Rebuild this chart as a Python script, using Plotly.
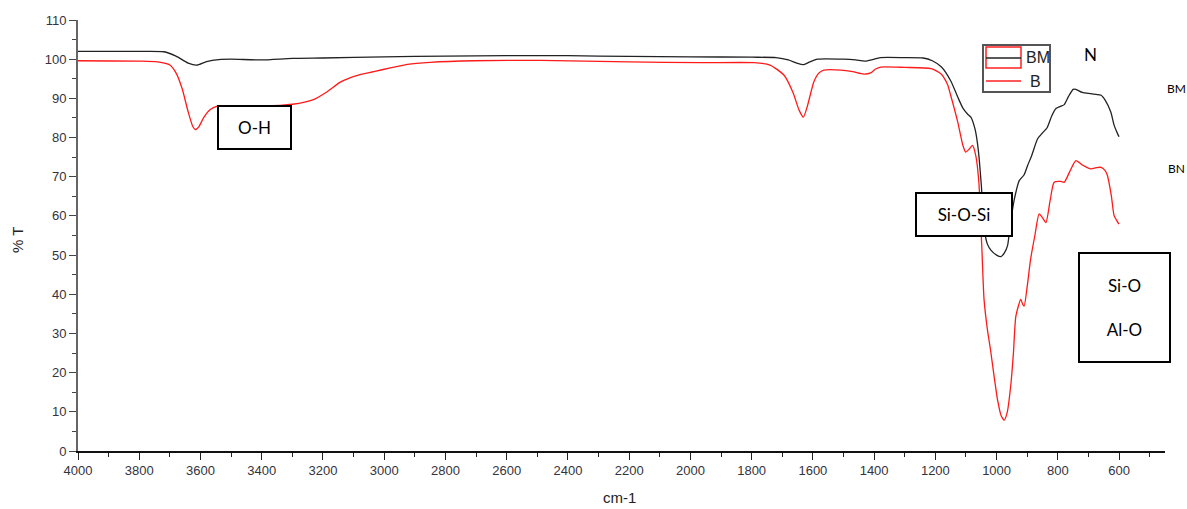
import plotly.graph_objects as go

# ---- data ----
bm_wn = [4000, 3800, 3720, 3680, 3640, 3612, 3580, 3540, 3500, 3400, 3300, 3200, 3000, 2800, 2600,
         2400, 2200, 2000, 1800, 1720, 1680, 1650, 1630, 1610, 1585, 1500, 1460, 1430, 1405, 1380,
         1300, 1240, 1210, 1180, 1150, 1125, 1110, 1095, 1084, 1070, 1060, 1050, 1040, 1030, 1018,
         1000, 986, 975, 964, 955, 942, 926, 910, 899, 885, 866, 850, 835, 820, 806, 790, 779, 765,
         750, 741, 720, 692, 675, 659, 645, 627, 616, 605, 600]
bm_t = [102.0, 102.0, 101.9, 100.8, 99.0, 98.5, 99.4, 99.9, 100.0, 99.8, 100.2, 100.3, 100.6, 100.8, 100.9,
        100.9, 100.7, 100.6, 100.5, 100.4, 99.8, 98.9, 98.6, 99.3, 100.0, 100.0, 99.8, 99.5, 99.9, 100.4,
        100.4, 100.3, 99.6, 98.0, 94.5, 90.0, 87.5, 86.0, 85.2, 82.0, 77.0, 68.0, 56.5, 52.8, 51.2,
        50.0, 49.6, 50.5, 52.5, 58.0, 64.3, 69.0, 70.5, 72.8, 75.5, 79.7, 81.2, 82.5, 85.5, 87.4, 88.0, 88.4, 90.5,
        92.3, 92.3, 91.5, 91.2, 91.0, 90.8, 89.5, 86.5, 83.1, 81.0, 80.2]

b_wn = [4000, 3800, 3740, 3700, 3680, 3660, 3640, 3625, 3617, 3605, 3590, 3570, 3545, 3400, 3300,
        3231, 3190, 3142, 3090, 3034, 2980, 2924, 2850, 2708, 2489, 2200, 1966, 1792, 1740, 1694,
        1665, 1645, 1631, 1618, 1597, 1580, 1564, 1509, 1470, 1434, 1411, 1395, 1378, 1300, 1214,
        1182, 1160, 1150, 1127, 1110, 1101, 1090, 1079, 1068, 1058, 1048, 1041, 1030, 1020, 1008,
        997, 985, 975, 965, 953, 945, 937, 921, 915, 910, 900, 889, 875, 861, 850, 839, 825, 812,
        790, 779, 760, 741, 720, 692, 675, 659, 645, 638, 625, 616, 605, 600]
b_t = [99.6, 99.5, 99.3, 98.5, 96.5, 92.5, 86.5, 82.8, 82.0, 82.8, 85.0, 87.0, 88.0, 88.0, 88.5,
       89.7, 91.5, 94.2, 95.8, 96.8, 97.8, 98.7, 99.2, 99.6, 99.7, 99.3, 99.1, 99.1, 98.5, 95.9,
       91.5, 87.0, 85.2, 88.0, 94.2, 96.5, 97.2, 97.2, 96.8, 96.2, 96.5, 97.5, 98.0, 97.9, 97.6,
       96.3, 93.5, 90.8, 84.0, 78.0, 76.3, 77.0, 78.0, 75.4, 68.7, 51.5, 38.7, 31.0, 25.9, 19.0,
       13.1, 9.0, 7.9, 10.0, 17.3, 25.0, 34.4, 38.7, 37.5, 37.0, 42.0, 48.9, 55.0, 60.5, 59.5, 58.3, 64.0, 68.6,
       68.8, 68.6, 71.5, 74.1, 73.0, 72.0, 72.3, 72.4, 71.5, 70.3, 65.0, 60.0, 58.5, 57.9]

x_ticks = list(range(4000, 599, -200))
y_ticks = list(range(0, 111, 10))

W, H = 1187, 509
L, R, T, B = 78, 22, 20, 58
PW, PH = W - L - R, H - T - B


def px(x):
    return (x - L) / PW


def py(y):
    return (H - B - y) / PH


fig = go.Figure()
fig.add_trace(go.Scatter(x=bm_wn, y=bm_t, mode="lines", name="BM",
                         line=dict(color="#222222", width=1.3, shape="spline", smoothing=0.6)))
fig.add_trace(go.Scatter(x=b_wn, y=b_t, mode="lines", name="B",
                         line=dict(color="#ff1a1a", width=1.3, shape="spline", smoothing=0.6)))

tickfont = dict(family="Liberation Sans, Arial", size=13, color="#333340")
fig.update_xaxes(range=[4000, 450], tickvals=x_ticks, ticktext=[str(v) for v in x_ticks],
                 ticks="outside", ticklen=7, tickwidth=1.3, tickcolor="#222",
                 minor=dict(dtick=100, ticks="outside", ticklen=4, tickcolor="#222", tick0=0),
                 showline=True, linecolor="#111", linewidth=1.5, showgrid=False, zeroline=False,
                 tickfont=tickfont)
fig.update_yaxes(range=[0, 110], tickvals=y_ticks, ticks="outside", ticklen=7, tickwidth=1.3,
                 tickcolor="#444",
                 minor=dict(dtick=5, ticks="outside", ticklen=4, tickcolor="#444"),
                 showline=True, linecolor="#666", linewidth=2, showgrid=False, zeroline=False,
                 tickfont=tickfont)

shapes = []
# legend frame
shapes.append(dict(type="rect", xref="paper", yref="paper", x0=px(983), x1=px(1050), y0=py(92), y1=py(45),
                   line=dict(color="#555", width=2), fillcolor="white", layer="above"))
shapes.append(dict(type="rect", xref="paper", yref="paper", x0=px(986), x1=px(1021), y0=py(68), y1=py(47),
                   line=dict(color="#ff2020", width=1.5), fillcolor="rgba(0,0,0,0)", layer="above"))
shapes.append(dict(type="line", xref="paper", yref="paper", x0=px(986), x1=px(1021), y0=py(58), y1=py(58),
                   line=dict(color="#222", width=1.3), layer="above"))
shapes.append(dict(type="line", xref="paper", yref="paper", x0=px(986), x1=px(1021), y0=py(81), y1=py(81),
                   line=dict(color="#ff2020", width=1.5), layer="above"))
fig.update_layout(shapes=shapes)

labfont = dict(family="Lato, Open Sans", size=17, color="black")
ann = [
    dict(text="BM", x=px(1024), y=py(57), xanchor="left", yanchor="middle",
         font=dict(family="Liberation Sans Narrow, Liberation Sans", size=16, color="#222")),
    dict(text="B", x=px(1028), y=py(81), xanchor="left", yanchor="middle",
         font=dict(family="Liberation Sans Narrow, Liberation Sans", size=16, color="#222")),
    dict(text="N", x=px(1090), y=py(55), xanchor="center", yanchor="middle", font=labfont),
    dict(text="BM", x=px(1176), y=py(88), xanchor="center", yanchor="middle",
         font=dict(family="Lato, Open Sans", size=12, color="black")),
    dict(text="BN", x=px(1176), y=py(168), xanchor="center", yanchor="middle",
         font=dict(family="Lato, Open Sans", size=12, color="black")),
    dict(text="O-H", x=px(254.5), y=py(127.5), xanchor="center", yanchor="middle", font=labfont,
         width=71, height=41, bordercolor="black", borderwidth=2, borderpad=0, bgcolor="white"),
    dict(text="Si-O-Si", x=px(964), y=py(214.5), xanchor="center", yanchor="middle", font=labfont,
         width=94, height=41, bordercolor="black", borderwidth=2, borderpad=0, bgcolor="white"),
    dict(text="Si-O<br><br>Al-O", x=px(1124.5), y=py(307.5), xanchor="center", yanchor="middle",
         font=labfont, width=89, height=107, bordercolor="black", borderwidth=2, borderpad=0,
         bgcolor="white"),
    dict(text="% T", x=px(18), y=py(240), xanchor="center", yanchor="middle", textangle=-90,
         font=dict(family="Liberation Sans, Arial", size=15, color="#222")),
    dict(text="cm-1", x=px(619), y=py(497), xanchor="center", yanchor="middle",
         font=dict(family="Liberation Sans, Arial", size=15, color="#222")),
]
for a in ann:
    a.update(xref="paper", yref="paper", showarrow=False)
fig.update_layout(annotations=ann)

fig.update_layout(width=W, height=H, margin=dict(l=L, r=R, t=T, b=B, autoexpand=False),
                  plot_bgcolor="white", paper_bgcolor="white", showlegend=False)

fig.write_html("out.html")
